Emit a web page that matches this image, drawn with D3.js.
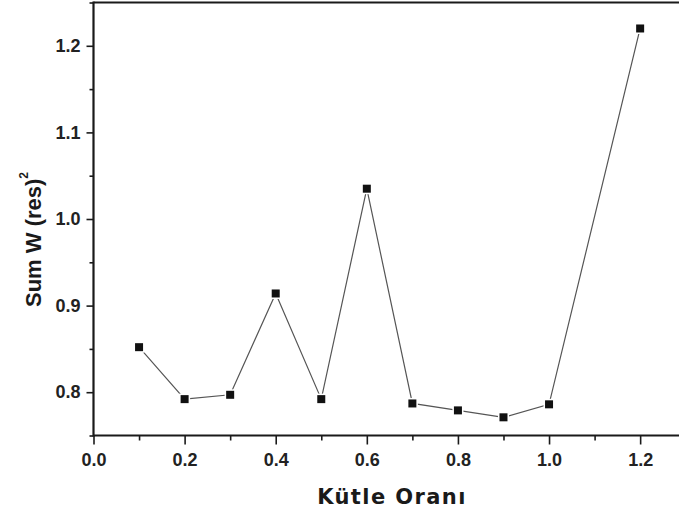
<!DOCTYPE html>
<html>
<head>
<meta charset="utf-8">
<script src="https://cdn.jsdelivr.net/npm/d3@7"></script>
<style>
  html, body { margin: 0; padding: 0; background: #fff; }
  svg { display: block; }
</style>
</head>
<body>
<svg id="chart" width="679" height="514"></svg>
<script>
// Mass ratio vs. weighted residual sum
const massRatio = [0.1, 0.2, 0.3, 0.4, 0.5, 0.6, 0.7, 0.8, 0.9, 1.0, 1.2];
const sumWRes2  = [0.852, 0.792, 0.797, 0.914, 0.792, 1.035, 0.787, 0.779, 0.771, 0.786, 1.220];

const xMajorTicks = [0.0, 0.2, 0.4, 0.6, 0.8, 1.0, 1.2];
const xMinorTicks = [0.1, 0.3, 0.5, 0.7, 0.9, 1.1];
const yMajorTicks = [0.8, 0.9, 1.0, 1.1, 1.2];
const yMinorTicks = [0.75, 0.85, 0.95, 1.05, 1.15, 1.25];

const xTitle = "Kütle Oranı";
const yTitle = "Sum W (res)";

const svg = d3.select("#chart");
const W = 679, H = 514;

const x = d3.scaleLinear().domain([0, 1.3]).range([93.5, 685.7]);
const y = d3.scaleLinear().domain([0.75, 1.25]).range([435.5, 2.5]);

const axisColor = "#1a1a1a";
const tickFont = "'Liberation Sans', Arial, sans-serif";

// X axis: major + minor ticks pointing down
const gx = svg.append("g").attr("transform", `translate(0,${y(0.75)})`);
gx.call(d3.axisBottom(x).tickValues(xMajorTicks).tickSize(9).tickPadding(9)
  .tickFormat(d3.format(".1f")));
gx.append("g").call(d3.axisBottom(x).tickValues(xMinorTicks).tickSize(5).tickFormat(""))
  .select(".domain").remove();
gx.select(".domain").remove();

// Y axis: major + minor ticks pointing left
const gy = svg.append("g").attr("transform", `translate(${x(0)},0)`);
gy.call(d3.axisLeft(y).tickValues(yMajorTicks).tickSize(7).tickPadding(6)
  .tickFormat(d3.format(".1f")));
gy.append("g").call(d3.axisLeft(y).tickValues(yMinorTicks).tickSize(4).tickFormat(""))
  .select(".domain").remove();
gy.select(".domain").remove();

svg.selectAll(".tick line").attr("stroke", axisColor).attr("stroke-width", 1.6);
svg.selectAll(".tick text")
  .attr("fill", "#222")
  .style("font-family", tickFont)
  .style("font-weight", "bold")
  .style("font-size", "18px");

// Frame lines: left, bottom and top
svg.append("line")
  .attr("x1", x(0)).attr("x2", W)
  .attr("y1", y(0.75)).attr("y2", y(0.75))
  .attr("stroke", axisColor).attr("stroke-width", 2.2);
svg.append("line")
  .attr("x1", x(0)).attr("x2", W)
  .attr("y1", y(1.25)).attr("y2", y(1.25))
  .attr("stroke", axisColor).attr("stroke-width", 2);
svg.append("line")
  .attr("x1", x(0)).attr("x2", x(0))
  .attr("y1", y(1.25) - 1).attr("y2", y(0.75) + 1)
  .attr("stroke", axisColor).attr("stroke-width", 2.2);

// Data line
const pts = massRatio.map((m, i) => [m, sumWRes2[i]]);
svg.append("path")
  .datum(pts)
  .attr("fill", "none")
  .attr("stroke", "#555")
  .attr("stroke-width", 1.2)
  .attr("d", d3.line().x(d => x(d[0])).y(d => y(d[1])));

// Square markers with a white halo so the line stops short of them
const s = 8;
svg.append("g").selectAll("rect")
  .data(pts)
  .join("rect")
  .attr("x", d => x(d[0]) - s / 2)
  .attr("y", d => y(d[1]) - s / 2)
  .attr("width", s).attr("height", s)
  .attr("fill", "#111")
  .attr("stroke", "#fff")
  .attr("stroke-width", 3)
  .attr("paint-order", "stroke");

// Axis titles
svg.append("text")
  .attr("x", 392).attr("y", 504)
  .attr("text-anchor", "middle")
  .attr("fill", "#1a1a1a")
  .style("font-family", "'DejaVu Sans', Verdana, sans-serif")
  .style("font-weight", "bold")
  .style("font-size", "21px")
  .style("letter-spacing", "1.4px")
  .text(xTitle);

const yt = svg.append("text")
  .attr("transform", "translate(41,307) rotate(-90)")
  .attr("text-anchor", "start")
  .attr("fill", "#1a1a1a")
  .style("font-family", tickFont)
  .style("font-weight", "bold")
  .style("font-size", "22px");
yt.append("tspan").text(yTitle);
yt.append("tspan")
  .attr("dy", -13)
  .style("font-size", "12px")
  .text("2");
</script>
</body>
</html>
